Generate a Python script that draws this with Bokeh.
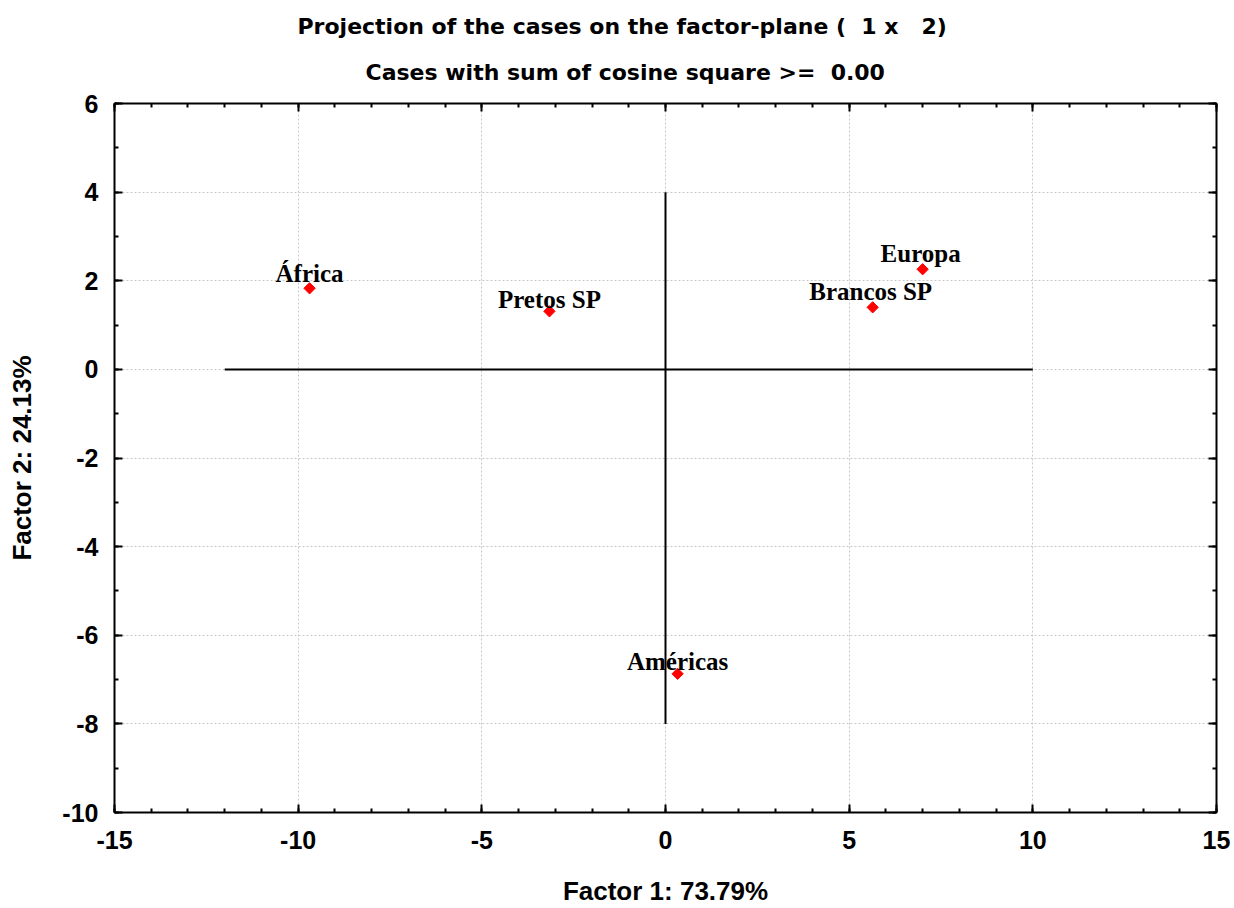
import math
from bokeh.plotting import figure
from bokeh.models import LinearAxis, Title, Range1d, ColumnDataSource, FixedTicker
from bokeh.core.properties import value
from bokeh.embed import file_html
from bokeh.resources import INLINE

# Case coordinates on the first two factors
cases = ["África", "Pretos SP", "Europa", "Brancos SP", "Américas"]
factor1 = [-9.69, -3.16, 7.00, 5.64, 0.33]
factor2 = [1.83, 1.31, 2.26, 1.40, -6.87]

# Label placement relative to each point (pixels, screen y grows downward)
label_dx = [0, 0, -2, -2, 0]
label_dy = [-15, -12, -16, -16, -12]

x_ticks = [-15, -10, -5, 0, 5, 10, 15]
x_tick_labels = ["-15", "-10", "-5", "0", "5", "10", "15"]
y_ticks = [-10, -8, -6, -4, -2, 0, 2, 4, 6]
y_tick_labels = ["-10", "-8", "-6", "-4", "-2", "0", "2", "4", "6"]

NBSP = "\u00a0"  # keeps the padded spacing of the titles in SVG text
title_main = "Projection of the cases on the factor-plane (" + NBSP * 2 + "1 x" + NBSP * 3 + "2)"
title_sub = "Cases with sum of cosine square >=" + NBSP * 2 + "0.00"

SANS = "Liberation Sans"
WIDE = "DejaVu Sans"
SERIF = "Liberation Serif"

W, H = 1234, 908
LEFT, RIGHT, TOP, BOTTOM = 114, 18, 103, 95

p = figure(width=W, height=H, output_backend="svg", toolbar_location=None,
           x_range=Range1d(-15, 15), y_range=Range1d(-10, 6),
           x_axis_location=None, y_axis_location=None,
           min_border_left=LEFT, min_border_right=RIGHT,
           min_border_top=TOP, min_border_bottom=BOTTOM)
p.outline_line_color = None
p.background_fill_color = "white"
p.border_fill_color = "white"


def style_axis(ax, ticks, labels, show_labels):
    ax.axis_line_color = "black"
    ax.axis_line_width = 2
    ax.major_tick_in = 8
    ax.major_tick_out = 0
    ax.minor_tick_in = 4
    ax.minor_tick_out = 0
    ax.major_tick_line_width = 2
    ax.minor_tick_line_width = 2
    ax.major_label_text_font = SANS
    ax.major_label_text_font_style = "bold"
    ax.major_label_text_color = "black"
    if show_labels:
        ax.major_label_text_font_size = "25px"
        ax.major_label_overrides = dict(zip(ticks, labels))
    else:
        ax.major_label_text_font_size = "1px"
        ax.major_label_standoff = 0
        ax.major_label_overrides = {t: "" for t in ticks}


x_minor = list(range(-15, 16))
y_minor = list(range(-10, 7))

xb = LinearAxis(ticker=FixedTicker(ticks=x_ticks, minor_ticks=x_minor))
style_axis(xb, x_ticks, x_tick_labels, True)
xb.major_label_standoff = 18
xb.axis_label = "Factor 1: 73.79%"
xb.axis_label_text_font = SANS
xb.axis_label_text_font_style = "bold"
xb.axis_label_text_font_size = "26px"
xb.axis_label_text_color = "black"
xb.axis_label_standoff = 24
p.add_layout(xb, "below")

yl = LinearAxis(ticker=FixedTicker(ticks=y_ticks, minor_ticks=y_minor))
style_axis(yl, y_ticks, y_tick_labels, True)
yl.major_label_standoff = 16
yl.axis_label = "Factor 2: 24.13%"
yl.axis_label_text_font = SANS
yl.axis_label_text_font_style = "bold"
yl.axis_label_text_font_size = "26px"
yl.axis_label_text_color = "black"
yl.axis_label_standoff = 22
p.add_layout(yl, "left")

xt = LinearAxis(ticker=FixedTicker(ticks=x_ticks, minor_ticks=x_minor))
style_axis(xt, x_ticks, x_tick_labels, False)
p.add_layout(xt, "above")

yr = LinearAxis(ticker=FixedTicker(ticks=y_ticks, minor_ticks=y_minor))
style_axis(yr, y_ticks, y_tick_labels, False)
p.add_layout(yr, "right")

# Two title lines, the subtitle nearest the frame
p.add_layout(Title(text=title_sub, align="left", offset=251, text_color="black",
                   text_font=WIDE, text_font_style="bold", text_font_size="22px",
                   standoff=38, vertical_align="bottom"), "above")
p.add_layout(Title(text=title_main, align="left", offset=183, text_color="black",
                   text_font=WIDE, text_font_style="bold", text_font_size="22px",
                   standoff=0, vertical_align="bottom"), "above")

p.xgrid.ticker = FixedTicker(ticks=x_ticks)
p.ygrid.ticker = FixedTicker(ticks=y_ticks)
for g in (p.xgrid, p.ygrid):
    g.grid_line_color = "#c8c8c8"
    g.grid_line_dash = "2 2"
    g.grid_line_width = 1

# Factor axes drawn through the origin
p.segment(x0=[-12, 0], y0=[0, 4], x1=[10, 0], y1=[0, -8], line_color="black", line_width=2)

src = ColumnDataSource(dict(x=factor1, y=factor2, name=cases, dx=label_dx, dy=label_dy))
p.scatter("x", "y", source=src, marker="square", angle=math.pi / 4, size=8,
          fill_color="red", line_color="red")

p.text("x", "y", text="name", source=src, x_offset="dx", y_offset="dy",
       text_font=value(SERIF), text_font_style="bold", text_font_size="25px",
       text_align="center", text_baseline="alphabetic", text_color="black")

open("out.html", "w").write(file_html(p, INLINE))
